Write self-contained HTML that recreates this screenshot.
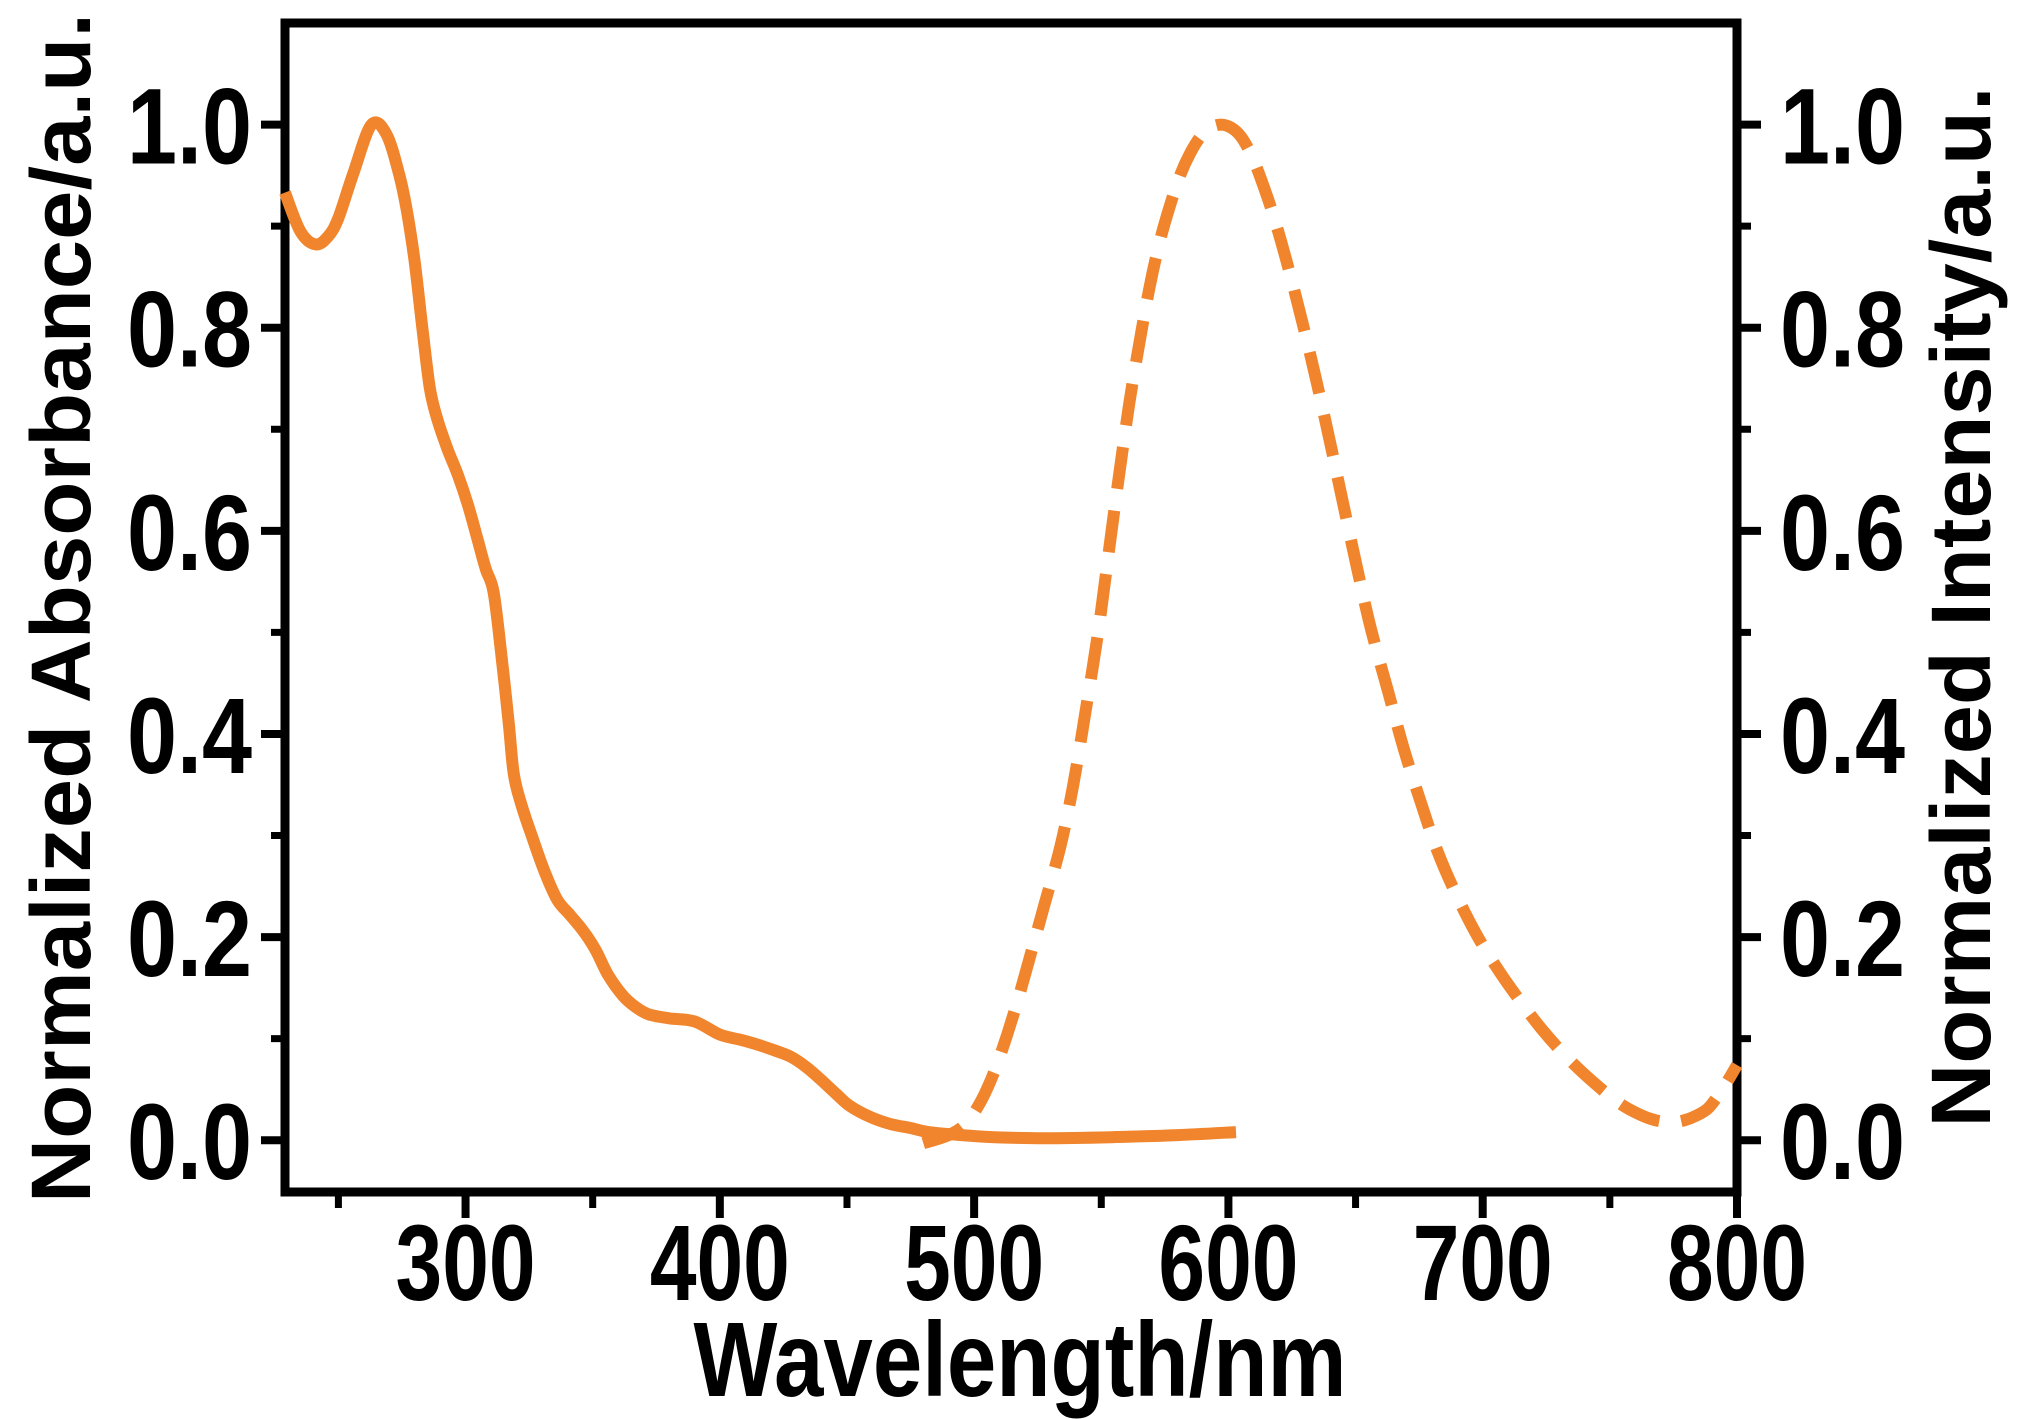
<!DOCTYPE html>
<html><head><meta charset="utf-8"><style>
html,body{margin:0;padding:0;background:#fff;}
svg{display:block;}
text{font-family:"Liberation Sans",Arial,sans-serif;font-weight:bold;fill:#000;}
</style></head>
<body>
<svg id="chart" width="2043" height="1419" viewBox="0 0 2043 1419" xmlns="http://www.w3.org/2000/svg">
<g id="axes"></g>
<g id="series"></g>
<g id="labels"></g>
</svg>
<script>
const absWl=[229,235,241,246,250,256,263,269,274,277,280,283,286,289,293,297,301,305,308,311,314,317,319,322,326,331,336,341,346,351,356,362,367,372,380,390,400,408,415,422,428,434,440,446,451,459,467,475,482,495,508,528,554,580,603];
const absVal=[0.933,0.895,0.882,0.89,0.908,0.953,1.0,0.99,0.95,0.914,0.865,0.8,0.74,0.709,0.68,0.655,0.625,0.589,0.562,0.54,0.48,0.41,0.36,0.33,0.3,0.265,0.237,0.222,0.207,0.188,0.163,0.142,0.131,0.124,0.12,0.117,0.104,0.099,0.094,0.088,0.082,0.072,0.059,0.045,0.034,0.023,0.016,0.012,0.008,0.005,0.003,0.002,0.003,0.005,0.008];
const emWl=[480,490,497,503,508,513,518,523,528,534,539,544,549,553,557,561,565,569,573,577,581,585,589,593,597,601,605,609,613,618,624,631,638,644,650,656,663,669,676,682,689,697,705,713,723,733,744,754,762,769,776,782,788,792,796,800];
const emVal=[-0.003,0.005,0.017,0.04,0.068,0.104,0.145,0.19,0.235,0.29,0.35,0.425,0.504,0.58,0.655,0.725,0.785,0.84,0.885,0.92,0.95,0.972,0.988,0.997,1.0,0.997,0.988,0.97,0.945,0.908,0.855,0.786,0.71,0.64,0.57,0.504,0.44,0.385,0.33,0.286,0.245,0.205,0.172,0.143,0.11,0.082,0.056,0.036,0.025,0.019,0.018,0.022,0.03,0.042,0.057,0.074];
const xTicks=[300,400,500,600,700,800];
const xMinor=[250,350,450,550,650,750];
const yTicks=[0.0,0.2,0.4,0.6,0.8,1.0];
const yMinor=[0.1,0.3,0.5,0.7,0.9];

const L=285,R=1737,T=23,B=1192;
const xMin=229,xMax=800,yMin=-0.051,yMax=1.1;
const xs=v=>L+(v-xMin)/(xMax-xMin)*(R-L);
const ys=v=>B-(v-yMin)/(yMax-yMin)*(B-T);
const NS="http://www.w3.org/2000/svg";
function mk(tag,attrs,parent){const e=document.createElementNS(NS,tag);for(const k in attrs)e.setAttribute(k,attrs[k]);parent.appendChild(e);return e;}
function smooth(xa,ya){
  const p=xa.map((w,i)=>[xs(w),ys(ya[i])]);
  let d='M'+p[0][0].toFixed(1)+','+p[0][1].toFixed(1);
  for(let i=0;i<p.length-1;i++){
    const p0=p[i-1]||p[i],p1=p[i],p2=p[i+1],p3=p[i+2]||p2;
    const c1=[p1[0]+(p2[0]-p0[0])/6,p1[1]+(p2[1]-p0[1])/6];
    const c2=[p2[0]-(p3[0]-p1[0])/6,p2[1]-(p3[1]-p1[1])/6];
    d+=' C'+c1.map(v=>v.toFixed(1)).join(',')+' '+c2.map(v=>v.toFixed(1)).join(',')+' '+p2.map(v=>v.toFixed(1)).join(',');
  }
  return d;
}
const axes=document.getElementById('axes'),series=document.getElementById('series'),labels=document.getElementById('labels');

const frame=mk('rect',{x:L,y:T,width:R-L,height:B-T,fill:'none',stroke:'#000','stroke-width':9},axes);



xTicks.forEach(v=>{
  const t=mk('line',{x1:xs(v),x2:xs(v),y1:B,y2:B+26,stroke:'#000','stroke-width':8},axes);
  
  
  const lb=mk('text',{x:xs(v),y:1300,'text-anchor':'middle','font-size':108,textLength:140,lengthAdjust:'spacingAndGlyphs'},labels);
  lb.textContent=String(v);
  
  
});
xMinor.forEach(v=>{
  const t=mk('line',{x1:xs(v),x2:xs(v),y1:B,y2:B+16,stroke:'#000','stroke-width':7},axes);
  
  
});
yTicks.forEach(v=>{
  const a=mk('line',{x1:L,x2:L-24,y1:ys(v),y2:ys(v),stroke:'#000','stroke-width':8},axes);
  
  
  const b=mk('line',{x1:R,x2:R+24,y1:ys(v),y2:ys(v),stroke:'#000','stroke-width':8},axes);
  
  
  const l1=mk('text',{x:252,y:ys(v)+39,'text-anchor':'end','font-size':108,textLength:125,lengthAdjust:'spacingAndGlyphs'},labels);
  l1.textContent=v.toFixed(1);
  
  
  const l2=mk('text',{x:1780,y:ys(v)+39,'text-anchor':'start','font-size':108,textLength:125,lengthAdjust:'spacingAndGlyphs'},labels);
  l2.textContent=v.toFixed(1);
  
  
});
yMinor.forEach(v=>{
  const a=mk('line',{x1:L,x2:L-14,y1:ys(v),y2:ys(v),stroke:'#000','stroke-width':7},axes);
  
  
  const b=mk('line',{x1:R,x2:R+14,y1:ys(v),y2:ys(v),stroke:'#000','stroke-width':7},axes);
  
  
});

const absPath=mk('path',{d:smooth(absWl,absVal),fill:'none',stroke:'#F0852D','stroke-width':12,'stroke-linejoin':'round'},series);


const emPath=mk('path',{d:smooth(emWl,emVal),fill:'none',stroke:'#F0852D','stroke-width':12,'stroke-dasharray':'42 22','stroke-linejoin':'round'},series);



const xt=mk('text',{x:1020,y:1396,'text-anchor':'middle','font-size':106,textLength:653,lengthAdjust:'spacingAndGlyphs'},labels);
xt.textContent='Wavelength/nm';


const lt=mk('text',{x:0,y:0,'text-anchor':'middle','font-size':84,textLength:1190,lengthAdjust:'spacingAndGlyphs',transform:'translate(90,608) rotate(-90)'},labels);
lt.textContent='Normalized Absorbance/a.u.';


const rt=mk('text',{x:0,y:0,'text-anchor':'middle','font-size':84,textLength:1041,lengthAdjust:'spacingAndGlyphs',transform:'translate(1990,607) rotate(-90)'},labels);
rt.textContent='Normalized Intensity/a.u.';


</script>
</body></html>
